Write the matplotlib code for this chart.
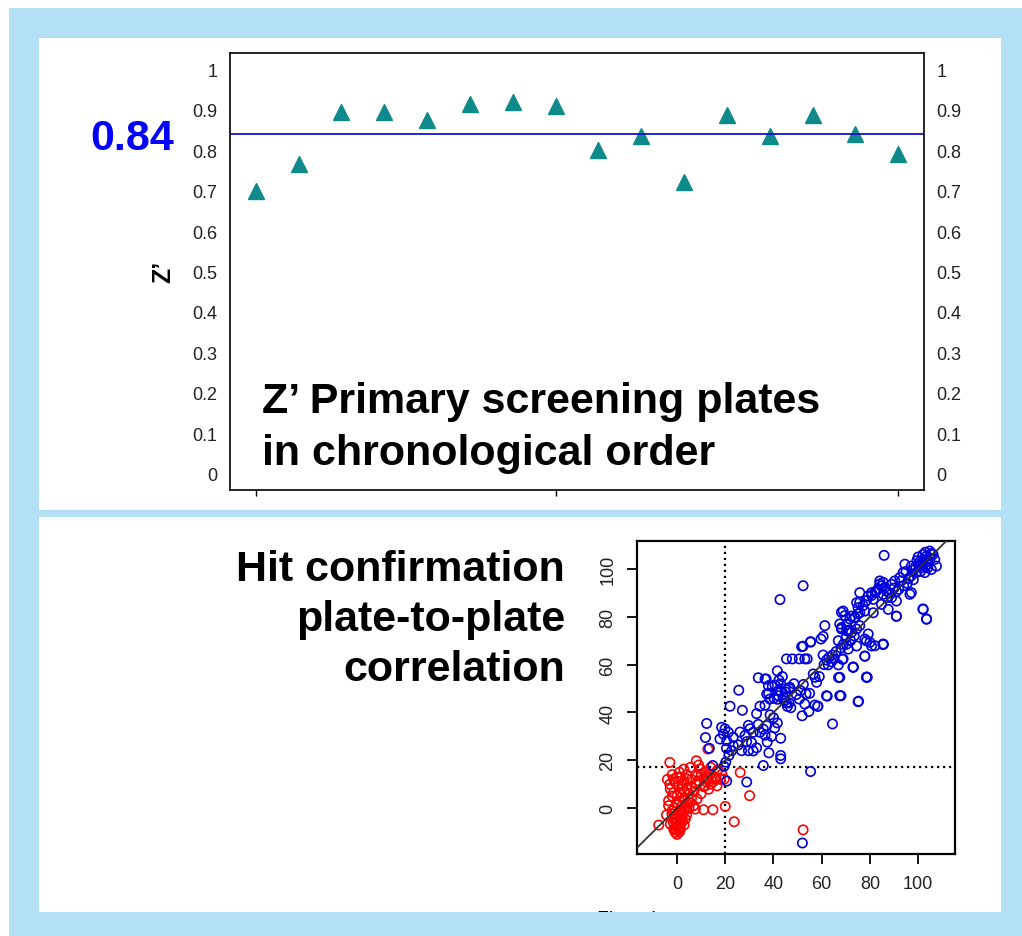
import numpy as np
import matplotlib
matplotlib.use('Agg')
import matplotlib.pyplot as plt
from matplotlib.patches import Rectangle

plt.rcParams['font.family'] = ['Liberation Sans', 'DejaVu Sans']

# Z' per primary screening plate (chronological order)
plate = list(range(1, 17))
zprime = [0.70, 0.765, 0.895, 0.895, 0.875, 0.915, 0.918, 0.91,
          0.80, 0.835, 0.72, 0.888, 0.835, 0.888, 0.84, 0.79]
z_mean = 0.84
plate_ticks = [1, 8, 16]
z_ticks = [0, 0.1, 0.2, 0.3, 0.4, 0.5, 0.6, 0.7, 0.8, 0.9, 1]
z_ticklabels = ['0', '0.1', '0.2', '0.3', '0.4', '0.5', '0.6', '0.7', '0.8', '0.9', '1']

# hit confirmation: plate 1 vs plate 2 (% activity)
red_x = [-3.0, 8.0, -7.6, 23.7, 20.0, 30.1, 26.2, 14.9, 11.0, 12.8, 2.8, 5.5, 9.7, 1.4, -1.4,
         4.1, 0.7, -2.8, 4.1, 6.2, 11.0, 12.4, 11.7, 13.1, 16.6, 15.9, 18.6, 19.6, 8.9, 16.6,
         13.8, 8.3, -3.5, 2.8, 0.0, 6.9, 7.6, 4.1, 1.4, -2.1, -4.4, 3.4, -0.7, -2.8, 0.0,
         1.4, -1.4, -0.7, -3.5, 5.5, 8.3, 1.4, -1.4, 2.1, -1, 0, 1, 2, 0,
         -1, 1, 2, 3, 3, 4, -2, -2, 0, 2, 1, -1, 0, 1, 3,
         4, 5, 6, 5, 3, -1, 0, 1, -2, 2, 3, 4, 6, 7, 8,
         10, 11, 12, 13, 14, 15, 16, 17, 18, 14, 12, 10, 9, -4, -3,
         52.3, 0.5, -0.5, 1.5, 2.5, -1.5, 0.5, 1.0, -0.3, 2.2]
red_y = [19.1, 19.8, -7.1, -5.7, 0.7, 5.2, 14.9, -0.7, -0.7, 24.7, 16.3, 17.0, 16.3, 12.8, 12.1,
         12.1, 9.3, 8.0, 8.0, 8.6, 12.1, 12.8, 9.3, 7.9, 9.3, 12.1, 14.2, 12.1, 11.4, 15.6,
         14.2, 13.5, 3.1, 3.8, 5.2, 1.0, -0.4, -0.4, -1.8, -2.5, -2.9, -4.6, -4.6, -6.7, -7.4,
         -8.8, -8.8, -10.2, 1.0, 2.4, 3.8, 6.5, 6.5, 10.0, -5, -3, -1, 1, 2,
         0, 3, -3, -1, 4, 2, -1, 5, -6, -6, -8, -9, -11, -10, -7,
         -3, 0, 4, 6, 7, 11, 13, 15, 14, 8, 11, 14, 12, 7, 10,
         6, 9, 11, 12, 10, 11, 13, 16, 12, 17, 15, 14, 18, 12, 10,
         -9.1, -2, -4, -5, -2, -6, -9, -7, -8, -4]

blue_x = [12.3, 11.8, 13.4, 14.8, 20.6, 28.9, 20.2, 19.5, 18.5, 19.9, 19.2, 21.3, 17.8, 20.6, 23.3,
          23.3, 22.7, 25.4, 21.5, 20.5, 26.1, 28.2, 29.6, 30.3, 31.6, 26.8, 29.6, 28.9, 30.9, 31.6,
          33.0, 22.0, 25.6, 27.1, 34.4, 33.7, 35.8, 37.2, 38.1, 37.4, 35.8, 36.5, 39.2, 40.5, 43.0,
          43.0, 43.0, 41.6, 40.0, 38.6, 33.0, 34.4, 36.5, 33.7, 37.0, 38.0, 39.5, 41.6, 42.3, 43.0,
          43.7, 40.2, 41.6, 44.4, 45.1, 46.5, 43.0, 47.2, 46.5, 45.8, 36.5, 37.9, 40.6, 42.0, 44.8,
          46.8, 37.2, 38.5, 42.0, 44.1, 45.4,
          45.4, 47.8, 50.7, 53.0, 54.0, 51.7, 55.4, 59.7, 60.6, 61.3, 60.6, 62.0, 64.1, 65.1, 62.7,
          66.9, 68.9, 66.9, 71.0, 73.1, 77.9, 78.6, 67.5, 67.5, 62.0, 75.1, 57.2, 57.9, 56.5, 52.4,
          51.2, 50.7, 53.0, 57.2, 51.9, 54.7, 58.4, 64.5, 55.4, 52.0, 52.3, 42.7, 52.3, 55.4, 49.5,
          53.5, 48.5, 55, 59, 61, 63, 64.5, 66, 68, 69, 70, 72, 73.5, 71.5, 67.5,
          68.2, 70.3, 72.4, 74.5, 75.8, 68.2, 69.6, 71.7, 73.8, 75.1, 77.9, 80.0, 82.1, 79.3, 85.5,
          73.1, 78.6, 68.6, 70.3, 74.5, 78.6, 80.7, 85.5, 77.9, 71,
          75.8, 77.2, 78.6, 80.7, 82.1, 83.4, 84.1, 85.5, 86.2, 68.9, 70.3, 68.2, 77.9, 81.4, 72.4,
          73.8, 74.5, 75.1, 75.8, 84.1, 84.8, 82.7, 80.7, 75.8, 79.3, 81.4, 85.5, 86.9, 91.0, 96.6,
          97.2, 102.1, 103.5, 91.0, 84.8, 87.6, 88.9, 90.3, 92.4, 93.8, 94.5, 97.2, 99.3, 102.8, 105.5,
          101.4, 107.6, 104.2, 100.7, 106.9, 102.1, 103.5, 106.2, 104.8, 85.9,
          98, 99, 100, 101, 102, 103, 104, 105, 103, 105.5, 100, 102, 99.5, 101, 104,
          96, 95, 93, 90, 88, 87, 89, 91, 92, 94, 95.5, 98, 97,
          91.0, 85.5, 78.9, 75.3, 73.0, 68.0, 67.0, 62.3, 58.4, 102.0, 103.5]
blue_y = [35.4, 29.5, 25.0, 17.8, 11.3, 10.9, 19.2, 17.5, 33.8, 33.1, 31.0, 31.7, 28.9, 28.2, 29.6,
          26.1, 24.0, 26.4, 22.0, 25.0, 31.8, 30.4, 34.6, 33.2, 31.7, 24.0, 24.0, 27.8, 27.4, 23.9,
          25.2, 42.6, 49.3, 40.9, 31.7, 35.0, 33.0, 34.5, 23.1, 27.6, 17.8, 30.5, 30.0, 33.5, 29.2,
          22.0, 20.6, 35.6, 37.8, 39.0, 39.5, 42.6, 43.0, 54.5, 54.0, 48.0, 50.8, 57.4, 53.5, 52.0,
          55.0, 46.0, 45.5, 45.0, 48.5, 50.0, 49.0, 42.0, 44.0, 42.5, 54.0, 51.2, 51.5, 49.1, 49.8,
          50.5, 47.7, 45.6, 47.0, 46.3, 44.0,
          62.4, 62.4, 62.4, 62.4, 62.4, 67.5, 69.6, 70.7, 71.8, 76.3, 64.0, 61.9, 61.2, 62.4, 59.9,
          59.9, 62.4, 70.0, 66.5, 58.9, 63.5, 54.7, 54.7, 47.0, 47.0, 44.5, 54.7, 52.6, 56.1, 51.7,
          49.1, 45.6, 43.5, 43.1, 38.6, 40.4, 42.6, 35.2, 15.3, -14.6, 93.0, 87.2, 67.7, 69.4, 47.5,
          47.8, 52, 48, 55, 60, 63, 64, 65.5, 67, 68.5, 71, 70, 72, 74.5, 77.0,
          74.9, 74.2, 73.5, 74.9, 76.3, 81.9, 80.5, 79.1, 79.8, 81.2, 70.7, 69.3, 67.9, 72.8, 68.6,
          59.0, 54.8, 62.2, 68.5, 67.8, 69.9, 67.8, 68.5, 63.6, 74.0,
          86.1, 84.7, 86.8, 88.9, 90.3, 91.7, 93.7, 94.4, 92.3, 82.4, 76.8, 75.5, 82.4, 81.7, 80.3,
          79.6, 85.9, 83.8, 81.7, 95.0, 92.9, 90.8, 90.1, 90.1, 88.7, 87.3, 89.4, 90.8, 86.6, 89.4,
          90.1, 83.1, 79.0, 80.3, 85.2, 83.1, 93.6, 95.0, 96.4, 98.5, 102.0, 101.2, 98.5, 98.5, 99.8,
          100.5, 101.2, 102.0, 103.1, 104.0, 104.0, 105.4, 106.1, 107.5, 105.7,
          99.5, 101, 102, 101.5, 103, 101, 103.5, 104.5, 107, 106.5, 105, 106, 103.5, 99, 100.5,
          96, 99, 95, 92, 90, 88, 88, 90.5, 91.5, 93, 94, 95.5, 97,
          80.2, 68.4, 54.7, 44.7, 58.9, 47.0, 54.6, 46.8, 42.6, 83.3, 79.1]
hit_x_cut = 20
hit_y_cut = 17
xy_ticks = [0, 20, 40, 60, 80, 100]

W, H = 1022, 937
fig = plt.figure(figsize=(W / 100, H / 100), dpi=100, facecolor='white')

def fx(px):
    return px / W

def fy(py):
    return 1 - py / H

sky = '#b3e0f4'
fig.patches.append(Rectangle((fx(9), 0), 1, fy(9), transform=fig.transFigure,
                             facecolor=sky, edgecolor='none', zorder=-20))
fig.patches.append(Rectangle((fx(39), fy(511)), fx(1001) - fx(39), fy(39) - fy(511),
                             transform=fig.transFigure, facecolor='white', edgecolor='none', zorder=-10))
fig.patches.append(Rectangle((fx(39), fy(913)), fx(1001) - fx(39), fy(518) - fy(913),
                             transform=fig.transFigure, facecolor='white', edgecolor='none', zorder=-10))

# top: Z' plot
ax1 = fig.add_axes([fx(230), fy(491), fx(924) - fx(230), fy(54) - fy(491)])
ax1.plot(plate, zprime, '^', color='#0f8a8a', ms=11, ls='none')
ax1.axhline(z_mean, color='#0000cc', lw=1.2)
ax1.set_xlim(0.4, 16.6)
ax1.set_ylim(-0.04, 1.04)
ax1.set_xticks(plate_ticks)
ax1.set_xticklabels([])
ax1.set_yticks(z_ticks)
ax1.set_yticklabels(z_ticklabels)
ax1.tick_params(axis='x', length=4, width=1)
ax1.tick_params(axis='y', length=0, pad=9, labelsize=13, labelcolor='#222222',
                left=True, right=True, labelleft=True, labelright=True)
for s in ax1.spines.values():
    s.set_linewidth(1.2)

fig.text(fx(163), fy(272), 'Z’', rotation=90, ha='center', va='center',
         fontsize=18, fontweight='bold')
fig.text(fx(132), fy(150), '0.84', ha='center', va='baseline', color='#0000ff',
         fontsize=31, fontweight='bold')
fig.text(fx(262), fy(413), 'Z’ Primary screening plates', va='baseline',
         fontsize=31, fontweight='bold')
fig.text(fx(262), fy(465), 'in chronological order', va='baseline',
         fontsize=31, fontweight='bold')

# bottom: hit confirmation correlation
ax2 = fig.add_axes([fx(637), fy(855), fx(955) - fx(637), fy(542) - fy(855)])
ax2.scatter(red_x, red_y, s=45, facecolors='none', edgecolors='#ff0000', linewidths=1.2, zorder=3)
ax2.scatter(blue_x, blue_y, s=45, facecolors='none', edgecolors='#0000dd', linewidths=1.2, zorder=3)
ax2.axline((0, 0), slope=1, color='#333333', lw=1.3, zorder=4)
ax2.axvline(hit_x_cut, color='black', lw=1.6, ls=(0, (1, 1.7)), zorder=2)
ax2.axhline(hit_y_cut, color='black', lw=1.6, ls=(0, (1, 1.7)), zorder=2)
ax2.set_xlim(-16.6, 115.3)
ax2.set_ylim(-19.2, 111.7)
ax2.set_xticks(xy_ticks)
ax2.set_yticks(xy_ticks)
ax2.tick_params(length=7, width=1.3, labelsize=13, pad=8, labelcolor='#222222')
ax2.tick_params(axis='y', labelrotation=90)
for lbl in ax2.get_yticklabels():
    lbl.set_va('center')
for s in ax2.spines.values():
    s.set_linewidth(1.6)

fig.text(fx(565), fy(581), 'Hit confirmation', ha='right', va='baseline',
         fontsize=31, fontweight='bold')
fig.text(fx(565), fy(631), 'plate-to-plate', ha='right', va='baseline',
         fontsize=31, fontweight='bold')
fig.text(fx(565), fy(681), 'correlation', ha='right', va='baseline',
         fontsize=31, fontweight='bold')

# axis title cut off by the frame
fig.text(fx(597), fy(924), 'First plate', va='baseline', fontsize=14, zorder=3)
fig.patches.append(Rectangle((fx(9), 0), 1, fy(913), transform=fig.transFigure,
                             facecolor=sky, edgecolor='none', zorder=10))

fig.savefig('out.png', dpi=100)
